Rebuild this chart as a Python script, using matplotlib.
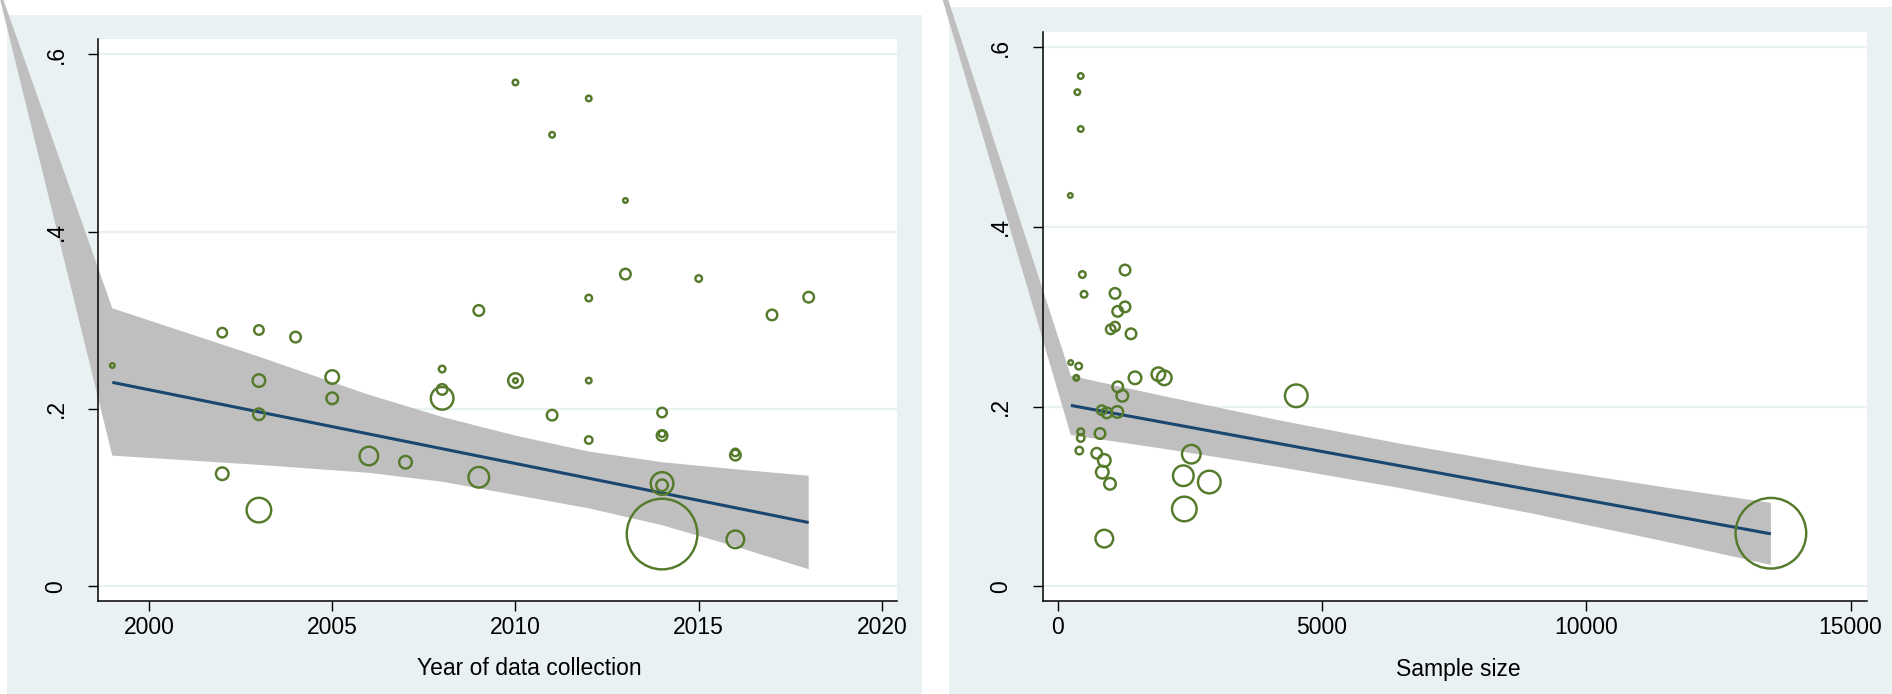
import numpy as np
import matplotlib
matplotlib.use('Agg')
import matplotlib.pyplot as plt
from matplotlib.patches import Rectangle, Polygon

plt.rcParams['font.family'] = ['Liberation Sans', 'DejaVu Sans']

# one entry per study: year of data collection, sample size, prevalence, study weight
year = [1999, 2002, 2002, 2003, 2003, 2003, 2003, 2004, 2005, 2005,
        2006, 2007, 2008, 2008, 2008, 2009, 2009, 2010, 2010, 2010,
        2011, 2011, 2012, 2012, 2012, 2012, 2013, 2013, 2014, 2014,
        2014, 2014, 2014, 2014, 2015, 2016, 2016, 2016, 2017, 2018]
sample_size = [247, 1004, 845, 1086, 1464, 1129, 2397, 1388, 1905, 1224,
               2529, 883, 399, 1137, 4515, 1275, 2378, 437, 2018, 354,
               437, 929, 373, 500, 354, 437, 240, 1275, 834, 437,
               802, 2870, 991, 13494, 468, 410, 740, 883, 1137, 1086]
prevalence = [0.249, 0.286, 0.127, 0.289, 0.232, 0.194, 0.086, 0.281, 0.236, 0.212,
              0.147, 0.140, 0.245, 0.222, 0.212, 0.311, 0.123, 0.568, 0.232, 0.232,
              0.509, 0.193, 0.550, 0.325, 0.232, 0.165, 0.435, 0.352, 0.196, 0.172,
              0.170, 0.116, 0.114, 0.059, 0.347, 0.151, 0.148, 0.053, 0.306, 0.326]
weight = [1.0, 2.9, 4.6, 2.9, 4.6, 4.0, 14.9, 3.45, 5.2, 4.0,
          9.0, 4.6, 1.65, 3.45, 12.8, 3.45, 10.8, 1.3, 5.9, 1.0,
          1.3, 3.45, 1.3, 1.65, 1.3, 2.0, 1.0, 3.45, 2.9, 1.65,
          3.45, 12.8, 4.0, 108.8, 1.65, 2.0, 3.45, 8.2, 3.45, 3.45]

# fitted line and 95% band (left: by year, right: by sample size)
fit_year = [1999, 2018]
fit_year_val = [0.230, 0.072]
band_year = [1999, 2003, 2006, 2008, 2010, 2012, 2014, 2016, 2018]
band_year_hi = [0.3135, 0.259, 0.216, 0.191, 0.170, 0.152, 0.140, 0.132, 0.1247]
band_year_lo = [0.1474, 0.137, 0.128, 0.118, 0.103, 0.088, 0.069, 0.045, 0.0194]
stray_year = (1995.74, 0.695)

fit_n = [250, 13494]
fit_n_val = [0.2013, 0.0583]
band_n = [250, 2000, 4200, 6500, 9000, 11500, 13494]
band_n_hi = [0.2343, 0.2117, 0.1846, 0.1585, 0.1329, 0.1099, 0.0928]
band_n_lo = [0.1683, 0.1531, 0.1326, 0.1091, 0.0807, 0.0497, 0.0238]
stray_n = (-3151, 0.848)

y_ticks = [0, 0.2, 0.4, 0.6]
y_ticklabels = ['0', '.2', '.4', '.6']

W, H = 1892, 694
BG = '#e9f1f2'
GREEN = '#557a2b'
NAVY = '#1a476f'
BAND = '#bfbfbf'
FS = 16.5

fig = plt.figure(figsize=(W / 100, H / 100), dpi=100)
fig.patch.set_facecolor('white')


def px_box(x0, y0, x1, y1):
    return [x0 / W, 1 - y1 / H, (x1 - x0) / W, (y1 - y0) / H]


# light panel backgrounds behind each graph
for x0, y0, x1, y1 in [(7, 15, 922, 694), (949, 7, 1892, 694)]:
    fig.add_artist(Rectangle((x0 / W, 1 - y1 / H), (x1 - x0) / W, (y1 - y0) / H,
                             transform=fig.transFigure, facecolor=BG,
                             edgecolor='none', zorder=-1))


def draw_panel(ax, x, fx, fy, bx, bhi, blo, stray, xlim, xticks, xlabel, label_x):
    for v in y_ticks:
        ax.axhline(v, color=BG, lw=1.6, zorder=0.5)

    # band polygon, with the stray vertex that runs off the top left
    verts = [stray] + list(zip(bx, bhi)) + list(zip(bx[::-1], blo[::-1]))
    ax.add_patch(Polygon(verts, closed=True, facecolor=BAND, edgecolor='none',
                         zorder=1, clip_on=False))
    ax.plot(fx, fy, color=NAVY, lw=2.2, zorder=2, solid_capstyle='butt')

    d_px = 7 * np.sqrt(np.array(weight))
    s = (np.maximum(d_px - 2.4, 1) * 0.72) ** 2
    ax.scatter(x, prevalence, s=s, facecolors='none', edgecolors=GREEN,
               linewidths=1.75, zorder=3, clip_on=False)

    ax.set_xlim(*xlim)
    ax.set_ylim(-0.016, 0.617)
    ax.set_xticks(xticks)
    ax.set_xticklabels([str(t) for t in xticks])
    ax.set_yticks(y_ticks)
    ax.set_yticklabels(y_ticklabels, rotation=90, va='center')
    for side in ['top', 'right']:
        ax.spines[side].set_visible(False)
    for side in ['left', 'bottom']:
        ax.spines[side].set_linewidth(1.1)
    ax.tick_params(axis='both', direction='out', length=7, width=1, labelsize=FS)
    ax.tick_params(axis='x', pad=4)
    ax.tick_params(axis='y', pad=15)
    ax.set_xlabel(xlabel, fontsize=FS)
    ax.xaxis.set_label_coords(label_x, -0.101)
    ax.set_facecolor('white')


ax1 = fig.add_axes(px_box(98, 39, 897, 600.6))
draw_panel(ax1, year, fit_year, fit_year_val, band_year, band_year_hi, band_year_lo,
           stray_year, (1998.61, 2020.41), [2000, 2005, 2010, 2015, 2020],
           'Year of data collection', 0.54)

ax2 = fig.add_axes(px_box(1042.5, 32, 1867, 600.6))
draw_panel(ax2, sample_size, fit_n, fit_n_val, band_n, band_n_hi, band_n_lo,
           stray_n, (-286, 15312), [0, 5000, 10000, 15000],
           'Sample size', 0.504)

fig.savefig('out.png', dpi=100, facecolor='white')
